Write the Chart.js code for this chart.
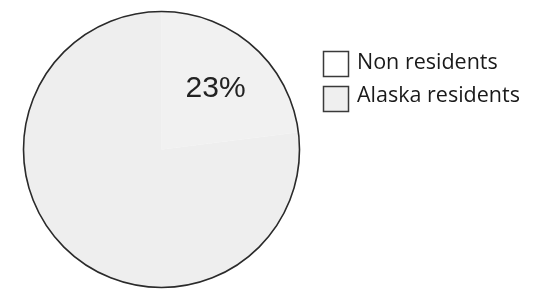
<!DOCTYPE html>
<html>
<head>
<meta charset="utf-8">
<script src="https://cdn.jsdelivr.net/npm/chart.js@4"></script>
<style>
html,body{margin:0;padding:0;background:#fff;}
#wrap{position:relative;width:544px;height:292px;}
</style>
</head>
<body>
<div id="wrap"><canvas id="c" width="544" height="292"></canvas></div>
<script>
const categories = ["Non residents", "Alaska residents"];
const shares = [23, 77];
const shownLabels = ["23%", ""];
const sliceColors = ["#f1f1f1", "#eeeeee"];
const legendBoxColors = ["#ffffff", "#efefef"];

const outline = {
  id: 'outline',
  afterDatasetsDraw(chart) {
    const arc = chart.getDatasetMeta(0).data[0];
    const ctx = chart.ctx;
    ctx.save();
    ctx.beginPath();
    ctx.arc(arc.x, arc.y, arc.outerRadius - 0.5, 0, Math.PI * 2);
    ctx.lineWidth = 1.6;
    ctx.strokeStyle = '#2a2a2a';
    ctx.stroke();
    ctx.restore();
  }
};

const sliceLabels = {
  id: 'sliceLabels',
  afterDatasetsDraw(chart) {
    const meta = chart.getDatasetMeta(0);
    const ctx = chart.ctx;
    ctx.save();
    ctx.font = '30px "Liberation Sans", Arial, sans-serif';
    ctx.fillStyle = '#222';
    ctx.textAlign = 'center';
    ctx.textBaseline = 'middle';
    meta.data.forEach((arc, i) => {
      if (!shownLabels[i]) return;
      const mid = (arc.startAngle + arc.endAngle) / 2;
      const r = arc.outerRadius * 0.59;
      ctx.fillText(shownLabels[i], arc.x + Math.cos(mid) * r, arc.y + Math.sin(mid) * r + 1);
    });
    ctx.restore();
  }
};

const sideLegend = {
  id: 'sideLegend',
  afterDraw(chart) {
    const ctx = chart.ctx;
    const x0 = 323, y0 = 51, step = 35, bw = 25, bh = 25;
    ctx.save();
    ctx.font = '21.5px "Open Sans", sans-serif';
    ctx.textBaseline = 'middle';
    ctx.textAlign = 'left';
    chart.data.labels.forEach((lab, i) => {
      const y = y0 + i * step;
      ctx.fillStyle = legendBoxColors[i];
      ctx.fillRect(x0, y, bw, bh);
      ctx.lineWidth = 1.5;
      ctx.strokeStyle = '#3a3a3a';
      ctx.strokeRect(x0 + 0.5, y + 0.5, bw, bh);
      ctx.fillStyle = '#1a1a1a';
      ctx.fillText(lab, x0 + bw + 9, y + bh / 2 - 1 - i * 2);
    });
    ctx.restore();
  }
};

new Chart(document.getElementById('c'), {
  type: 'pie',
  data: {
    labels: categories,
    datasets: [{
      data: shares,
      backgroundColor: sliceColors,
      borderWidth: 0
    }]
  },
  options: {
    responsive: false,
    animation: false,
    layout: { padding: { left: 23, right: 244, top: 10, bottom: 3 } },
    plugins: {
      legend: { display: false },
      tooltip: { enabled: false }
    }
  },
  plugins: [outline, sliceLabels, sideLegend]
});
</script>
</body>
</html>
